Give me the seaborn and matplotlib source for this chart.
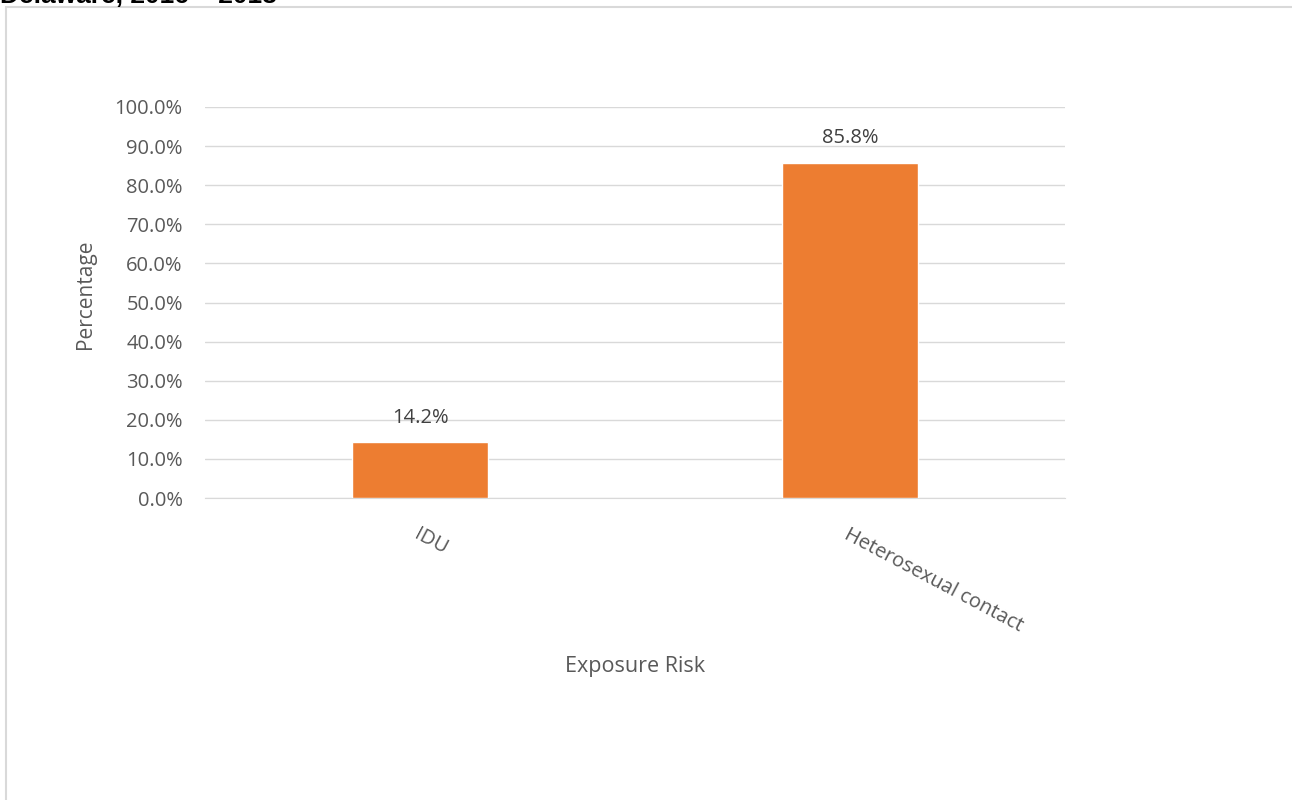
import matplotlib
matplotlib.use('Agg')
import matplotlib.pyplot as plt
import seaborn as sns
import pandas as pd
from matplotlib.patches import Rectangle

categorias = ['IDU', 'Heterosexual contact']
percentuais = [14.2, 85.8]
ticks_y = list(range(0, 101, 10))
rotulos_y = [f'{v:.1f}%' for v in ticks_y]

df = pd.DataFrame({'Exposure Risk': categorias, 'Percentage': percentuais})

sns.set_style('white')
plt.rcParams['font.family'] = ['Open Sans', 'DejaVu Sans']

fig = plt.figure(figsize=(12.92, 8), dpi=100)
ax = fig.add_axes([205 / 1292, 1 - 498 / 800, 860 / 1292, 391 / 800])

sns.barplot(x='Exposure Risk', y='Percentage', data=df, color='#ED7D31',
            width=0.314, saturation=1, ax=ax, zorder=3)

ax.set_ylim(0, 100)
ax.set_xlim(-0.5, 1.5)
ax.set_yticks(ticks_y)
ax.set_yticklabels(rotulos_y)
ax.yaxis.grid(True, color='#d9d9d9', linewidth=1, zorder=0)
ax.set_axisbelow(True)
for s in ['top', 'right', 'left']:
    ax.spines[s].set_visible(False)
ax.spines['bottom'].set_color('#d9d9d9')
ax.tick_params(axis='y', length=0, labelsize=14.5, labelcolor='#595959', pad=16)
ax.tick_params(axis='x', length=0, labelsize=14.5, labelcolor='#595959', pad=19)

for lbl in ax.get_xticklabels():
    lbl.set_rotation(-28)
    lbl.set_ha('left')
    lbl.set_va('top')
    lbl.set_rotation_mode('anchor')

for i, v in enumerate(percentuais):
    ax.text(i, v + 3.8, f'{v:.1f}%', ha='center', va='bottom', fontsize=14.5, color='#404040')

ax.set_xlabel('Exposure Risk', fontsize=15.5, color='#595959', labelpad=0)
ax.xaxis.set_label_coords((635 - 205) / 860, -(666 - 498) / 391)
ax.xaxis.label.set_va('center')
ax.set_ylabel('Percentage', fontsize=15, color='#595959')
ax.yaxis.set_label_coords(-(205 - 86) / 860, (498 - 294) / 391)
ax.yaxis.label.set_va('center')

# chart border
fig.patches.append(Rectangle((6 / 1292, -0.01), 1.5, 1 - 7 / 800 + 0.01, transform=fig.transFigure,
                             fill=False, edgecolor='#d9d9d9', linewidth=1.5))

# title, cut off at the top edge as in the source image
fig.text(0, 1 - 3 / 800, 'Delaware, 2016 – 2018', fontsize=19, fontweight='bold',
         family=['Liberation Sans', 'DejaVu Sans'], ha='left', va='baseline', color='black')

fig.savefig('out.png', dpi=100)
